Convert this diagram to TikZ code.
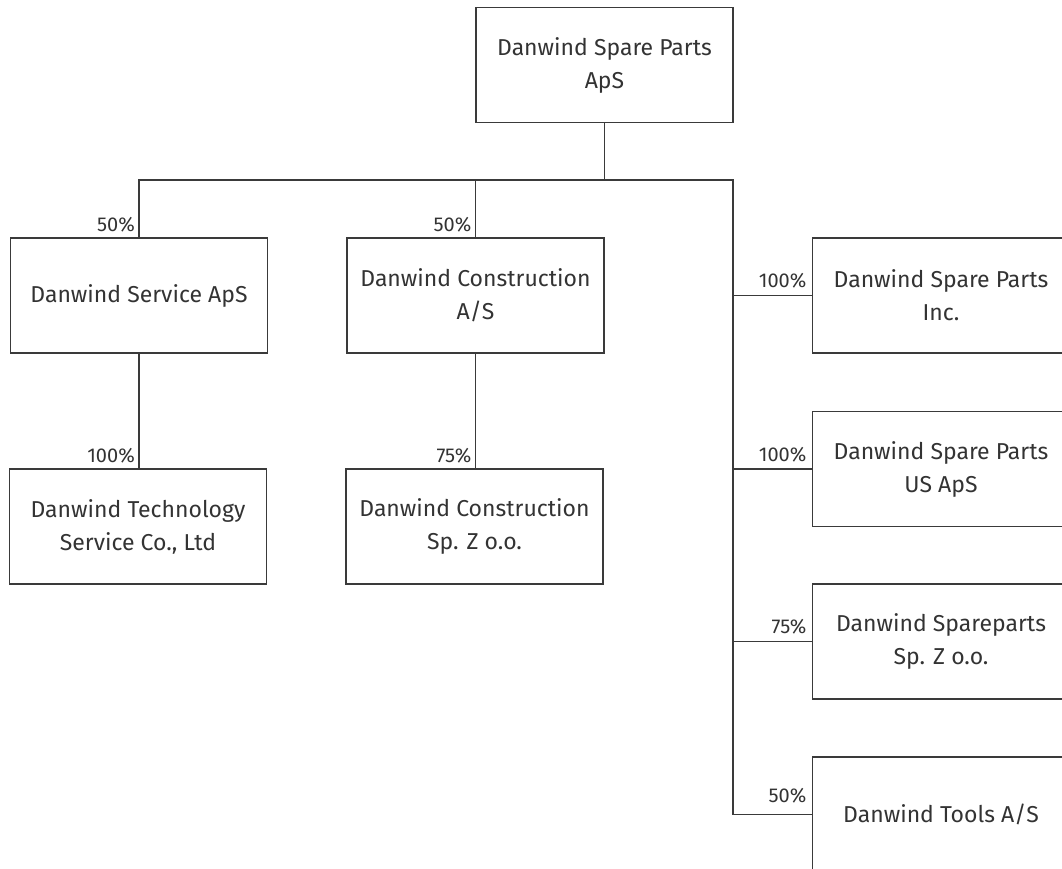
\documentclass[tikz,border=0pt]{standalone}
\usepackage{fontspec}
\setmainfont{Fira Sans}
\definecolor{linec}{HTML}{3A3A3A}
\definecolor{textc}{HTML}{333333}
\tikzset{
  box/.style={draw=linec, line width=1.8pt, minimum width=257pt, minimum height=115pt,
    align=center, inner sep=0pt, text=textc, font=\fontsize{23}{33}\selectfont},
  pct/.style={anchor=base east, inner sep=0pt, text=textc, font=\fontsize{20}{22}\selectfont},
  conn/.style={draw=linec, line width=1.8pt}
}
\begin{document}
\begin{tikzpicture}[x=1pt,y=-1pt]
\useasboundingbox (0,0) rectangle (1062,868);
\node[box] (top)  at (604.5,65)   {Danwind Spare Parts\\ApS};
\node[box] (svc)  at (139,295.5)  {Danwind Service ApS};
\node[box] (con)  at (475.5,295.5){Danwind Construction\\A/S};
\node[box] (tech) at (138,526.5)  {Danwind Technology\\Service Co., Ltd};
\node[box] (cpl)  at (474.5,526.5){Danwind Construction\\Sp. Z o.o.};
\node[box] (r1)   at (941,295.5)  {Danwind Spare Parts\\Inc.};
\node[box] (r2)   at (941,469)    {Danwind Spare Parts\\US ApS};
\node[box] (r3)   at (941,641.5)  {Danwind Spareparts\\Sp. Z o.o.};
\node[box] (r4)   at (941,814.5)  {Danwind Tools A/S};
\coordinate (hl) at (139,180);
\coordinate (hr) at (733,180);
\draw[conn] (top.south) -- (top.south |- hl);
\draw[conn] (svc.north) -- (svc.north |- hl) -- (hr) -- (hr |- r4.west) -- (r4.west);
\draw[conn] (con.north) -- (con.north |- hl);
\draw[conn] (r1.west) -- (r1.west -| hr);
\draw[conn] (r2.west) -- (r2.west -| hr);
\draw[conn] (r3.west) -- (r3.west -| hr);
\draw[conn] (svc.south) -- (svc.south |- tech.north);
\draw[conn] (con.south) -- (con.south |- cpl.north);
\node[pct] (p1) at ([xshift=-4pt,yshift=6pt]svc.north) {50\%};
\node[pct] (p2) at ([xshift=-4pt,yshift=6pt]con.north) {50\%};
\node[pct] (p3) at ([xshift=-4pt,yshift=6pt]svc.south |- tech.north) {100\%};
\node[pct] (p4) at ([xshift=-4pt,yshift=6pt]con.south |- cpl.north) {75\%};
\node[pct] (p5) at ([xshift=-5pt,yshift=8pt]r1.west) {100\%};
\node[pct] (p6) at ([xshift=-5pt,yshift=8pt]r2.west) {100\%};
\node[pct] (p7) at ([xshift=-5pt,yshift=8pt]r3.west) {75\%};
\node[pct] (p8) at ([xshift=-5pt,yshift=12pt]r4.west) {50\%};
\end{tikzpicture}
\end{document}
